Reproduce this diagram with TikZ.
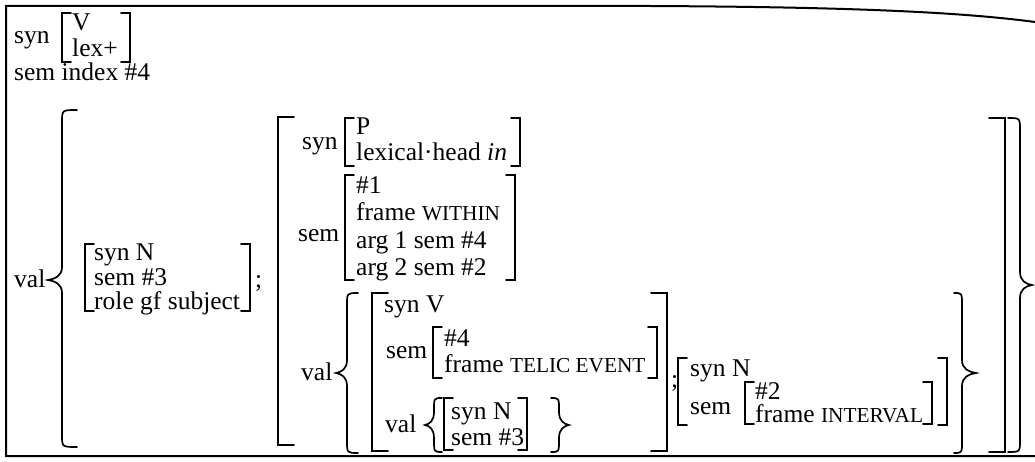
\documentclass[tikz,border=0pt]{standalone}
\usepackage{fontspec}
\setmainfont{Liberation Serif}
\newcommand\smc[1]{{\fontsize{21.3}{21.3}\selectfont #1}}
% left bracket: x, top, bottom, serif
\newcommand\LBk[4]{\draw[brk] ({#1+#4},{#2}) -- (#1,{#2}) -- (#1,{#3}) -- ({#1+#4},{#3});}
% right bracket
\newcommand\RBk[4]{\draw[brk] ({#1-#4},{#2}) -- (#1,{#2}) -- (#1,{#3}) -- ({#1-#4},{#3});}
% brace: xv, top, bottom, mid, tipx, hookx
\newcommand\Brc[6]{\draw[brk] (#6,#2) .. controls (#1,#2) .. (#1,{#2+12}) -- (#1,{#4-13}) .. controls (#1,{#4-4}) and ({(#1+#5)/2},{#4-1}) .. (#5,#4) .. controls ({(#1+#5)/2},{#4+1}) and (#1,{#4+4}) .. (#1,{#4+13}) -- (#1,{#3-12}) .. controls (#1,#3) .. (#6,#3);}
\begin{document}
\begin{tikzpicture}[x=1pt,y=-1pt,
  txt/.style={inner sep=0pt,anchor=base west,font=\fontsize{25.5}{25.5}\selectfont},
  brk/.style={line width=1.7pt,line cap=round,line join=miter},
  frm/.style={line width=2pt}]
\useasboundingbox (0,0) rectangle (1035,462);
% frame
\draw[frm] (1035,22) .. controls (960,12) and (850,7) .. (650,6) -- (6,6) -- (6,456) -- (1035,456);
% top part
\node[txt] (syn0) at (14,44) {syn};
\LBk{62}{13}{62}{9}
\node[txt] (v0) at (72,31) {V};
\node[txt] (lex0) at (72,57) {lex+};
\RBk{130}{13}{62}{9}
\node[txt] (semidx) at (14,81) {sem index \#4};
% outer val
\node[txt] (val0) at (14,287) {val};
\Brc{62}{110}{447}{280}{48}{77}
% element 1
\LBk{85}{244}{311}{9}
\node[txt] (e1a) at (94,261) {syn N};
\node[txt] (e1b) at (94,285) {sem \#3};
\node[txt] (e1c) at (94,309) {role gf subject};
\RBk{250}{244}{311}{9}
\node[txt] (semi1) at (255,287) {;};
% element 2 big bracket
\LBk{278}{117}{445}{16}
\node[txt] (syn1) at (302,150) {syn};
\LBk{345}{118}{166}{9}
\node[txt] (p1) at (356,135) {P};
\node[txt] (lh1) at (356,161) {lexical·head \textit{in}};
\RBk{520}{118}{166}{9}
\node[txt] (sem1) at (298,241) {sem};
\LBk{345}{175}{280}{9}
\node[txt] (h1) at (356,194) {\#1};
\node[txt] (fw1) at (356,221) {frame \smc{WITHIN}};
\node[txt] (a11) at (356,248) {arg 1 sem \#4};
\node[txt] (a21) at (356,275) {arg 2 sem \#2};
\RBk{515}{175}{280}{9}
% val of element 2
\node[txt] (val2) at (301,380) {val};
\Brc{347}{293}{453}{373}{336}{358}
\LBk{372}{293}{451}{16}
\node[txt] (synv) at (384,312) {syn V};
\node[txt] (sem2) at (386,358) {sem};
\LBk{433}{327}{378}{9}
\node[txt] (h4) at (444,346) {\#4};
\node[txt] (ft) at (444,372) {frame \smc{TELIC EVENT}};
\RBk{657}{327}{378}{9}
\node[txt] (val3) at (385,432) {val};
\Brc{434}{398}{452}{425}{425}{442}
\LBk{444}{398}{450}{9}
\node[txt] (sn3) at (451,419) {syn N};
\node[txt] (s33) at (451,445) {sem \#3};
\RBk{527}{398}{450}{9}
\Brc{559}{398}{452}{425}{569}{551}
\RBk{667}{293}{451}{16}
\node[txt] (semi2) at (671,387) {;};
% right element
\LBk{678}{358}{425}{9}
\node[txt] (snr) at (690,376) {syn N};
\node[txt] (semr) at (690,414) {sem};
\LBk{745}{382}{424}{9}
\node[txt] (h2) at (755,399) {\#2};
\node[txt] (fi) at (755,422) {frame \smc{INTERVAL}};
\RBk{932}{382}{424}{9}
\RBk{947}{358}{425}{9}
\Brc{962}{293}{453}{373}{976}{954}
% closing
\RBk{1005}{118}{452}{16}
\Brc{1020}{118}{452}{285}{1032}{1008}
\end{tikzpicture}
\end{document}
